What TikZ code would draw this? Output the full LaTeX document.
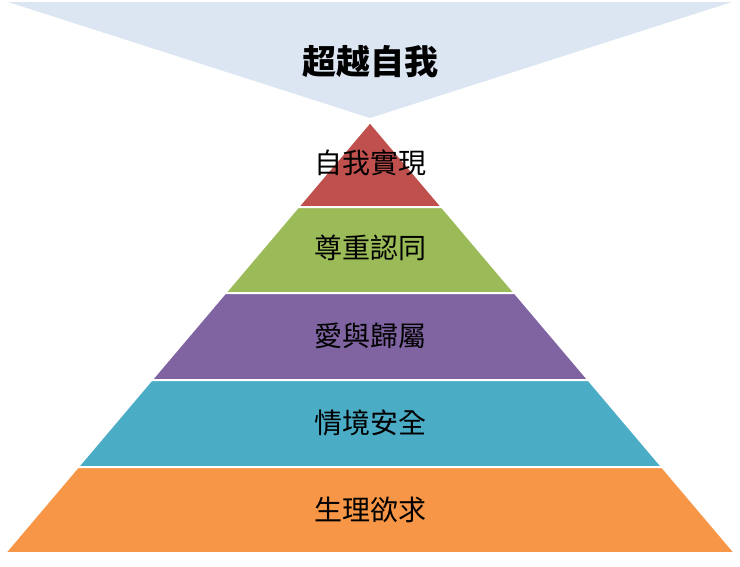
\documentclass[tikz,border=0pt]{standalone}
\usepackage{fontspec}
\newfontfamily\cjk{Noto Sans CJK TC}
\definecolor{cred}{HTML}{C0504D}
\definecolor{cgreen}{HTML}{9BBB59}
\definecolor{cpurple}{HTML}{8064A2}
\definecolor{cblue}{HTML}{4BACC6}
\definecolor{corange}{HTML}{F79646}
\definecolor{ctop}{HTML}{DCE6F2}
\begin{document}
\begin{tikzpicture}[x=1pt,y=-1pt,
  layer/.style={draw=white,line width=2pt},
  lbl/.style={font=\cjk\fontsize{28}{30}\selectfont,text=black}]
\useasboundingbox (0,0) rectangle (740,566);
\fill[ctop] (8,2) -- (732,2) -- (370,118) -- cycle;
\node[font=\cjk\bfseries\fontsize{34}{36}\selectfont] (top) at (370,62) {超越自我};
\def\hw#1{0.847*(#1-122)}
\foreach \a/\b/\c in {122/207/cred,207/293/cgreen,293/380/cpurple,380/467/cblue,467/553/corange}{
  \fill[\c,layer] ({370-\hw{\a}},\a) -- ({370+\hw{\a}},\a) -- ({370+\hw{\b}},\b) -- ({370-\hw{\b}},\b) -- cycle;
}
\node[lbl] (l1) at (370,163) {自我實現};
\node[lbl] (l2) at (370,248) {尊重認同};
\node[lbl] (l3) at (370,336) {愛與歸屬};
\node[lbl] (l4) at (370,423) {情境安全};
\node[lbl] (l5) at (370,510) {生理欲求};
\end{tikzpicture}
\end{document}
